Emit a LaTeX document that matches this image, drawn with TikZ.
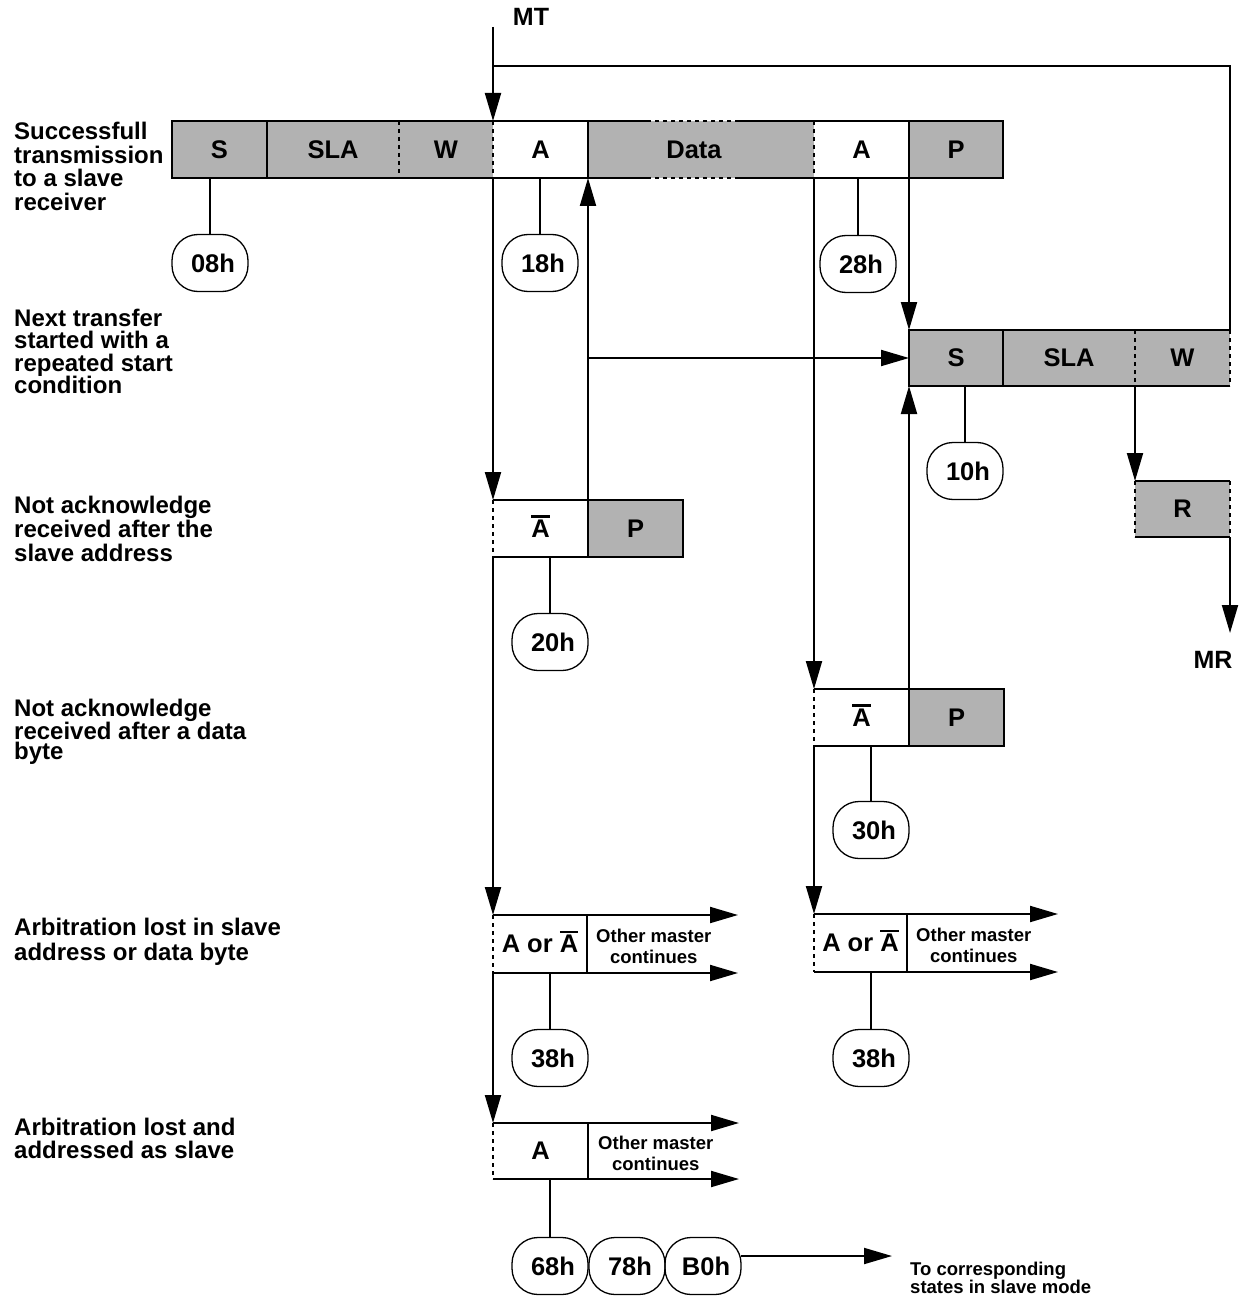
\documentclass[tikz,border=0pt]{standalone}
\usepackage{fontspec}
\setmainfont{Liberation Sans}
\usetikzlibrary{arrows.meta,calc}
\definecolor{fieldgray}{RGB}{178,178,178}
\newcommand{\nA}{\rlap{\smash{\rule[0.76em]{0.72em}{0.1em}}}A}

\begin{document}
\begin{tikzpicture}[x=1pt,y=-1pt,
  field/.style={anchor=north west,inner sep=0pt,outer sep=0pt,minimum height=57pt,font=\bfseries\fontsize{25.5}{28}\selectfont},
  gfield/.style={field,fill=fieldgray},
  code/.style={draw,line width=1.3pt,rounded corners=26pt,minimum width=76pt,minimum height=57pt,inner sep=0pt,outer sep=0pt,font=\bfseries\fontsize{25.5}{28}\selectfont},
  rim/.style={line width=2pt},
  dashrim/.style={line width=2pt,dash pattern=on 4pt off 4pt},
  tick/.style={line width=1.6pt},
  arr/.style={line width=2pt,-{Triangle[length=28pt,width=16pt]}},
  note/.style={anchor=north west,align=left,inner sep=0pt,font=\bfseries\fontsize{24}{#1}\selectfont},
  small/.style={align=center,inner sep=0pt,font=\bfseries\fontsize{18.5}{21}\selectfont},
  tag/.style={inner sep=0pt,font=\bfseries\fontsize{25}{28}\selectfont}]
\useasboundingbox (0,0) rectangle (1259,1297);

\node[note=23.7] (succ) at (14,122) {Successfull\\transmission\\to a slave\\receiver};
\node[note=22.5] (next) at (14,308.5) {Next transfer\\started with a\\repeated start\\condition};
\node[note=24] (nack1) at (14,495.5) {Not acknowledge\\received after the\\slave address};
\node[note=19.8] (nack2) at (14,698.5) {Not acknowledge\\received after a data\\byte};
\node[note=25] (arb1) at (14,918) {Arbitration lost in slave\\address or data byte};
\node[note=23] (arb2) at (14,1118) {Arbitration lost and\\addressed as slave};

\node[gfield,minimum width=95pt] (s1) at (172,121) {S};
\node[gfield,minimum width=132pt] (sla1) at (267,121) {SLA};
\node[gfield,minimum width=94pt] (w1) at (399,121) {W};
\node[field,minimum width=95pt] (a1) at (493,121) {A};
\node[gfield,minimum width=226pt] (data) at (588,121) {Data\hspace*{14pt}};
\node[field,minimum width=95pt] (a2) at (814,121) {A};
\node[gfield,minimum width=94pt] (p1) at (909,121) {P};

\node[gfield,minimum width=94pt,minimum height=56pt] (s2) at (909,330) {S};
\node[gfield,minimum width=132pt,minimum height=56pt] (sla2) at (1003,330) {SLA};
\node[gfield,minimum width=95pt,minimum height=56pt] (w2) at (1135,330) {W};
\node[gfield,minimum width=95pt,minimum height=56pt] (r) at (1135,481) {R};

\node[field,minimum width=95pt] (ab1) at (493,500) {\nA};
\node[gfield,minimum width=95pt] (p3) at (588,500) {P};
\node[field,minimum width=95pt] (ab2) at (814,689) {\nA};
\node[gfield,minimum width=95pt] (p4) at (909,689) {P};

\node[field,minimum width=94pt,minimum height=58pt] (ao1) at (493,915) {A or \nA};
\node[field,minimum width=93pt,minimum height=58pt] (ao2) at (814,914) {A or \nA};
\node[field,minimum width=95pt,minimum height=56pt] (a3) at (493,1123) {A};
\node[small,anchor=west,xshift=9pt,yshift=-2pt] (om1) at (ao1.east) {Other master\\continues};
\node[small,anchor=west,xshift=9pt,yshift=-2pt] (om2) at (ao2.east) {Other master\\continues};
\node[small,anchor=west,xshift=10pt,yshift=-2pt] (om3) at (a3.east) {Other master\\continues};

\node[code] (c08) at (210,263) {\hspace*{6pt}08h};
\node[code] (c18) at (540,263) {\hspace*{6pt}18h};
\node[code] (c28) at (858,264) {\hspace*{6pt}28h};
\node[code] (c10) at (965,471) {\hspace*{6pt}10h};
\node[code] (c20) at (550,642) {\hspace*{6pt}20h};
\node[code] (c30) at (871,830) {\hspace*{6pt}30h};
\node[code] (c38a) at (550,1058) {\hspace*{6pt}38h};
\node[code] (c38b) at (871,1058) {\hspace*{6pt}38h};
\node[code] (c68) at (550,1266) {\hspace*{6pt}68h};
\node[code] (c78) at (627,1266) {\hspace*{6pt}78h};
\node[code] (cb0) at (703,1266) {\hspace*{6pt}B0h};

\node[tag] (mt) at (531,17) {MT};
\node[tag] (mr) at (1213,660) {MR};
\node[small,anchor=north west,align=left,font=\bfseries\fontsize{18.5}{18.5}\selectfont] (slave) at (910,1261.5) {To corresponding\\states in slave mode};
\coordinate (mttop) at (493,27);
\coordinate (loop) at (1230,66);
\coordinate (mrtip) at (1230,633);

\draw[rim] ($(data.north west)+(59,0)$) -- (s1.north west) -- (s1.south west) -- ($(data.south west)+(59,0)$);
\draw[rim] ($(data.north east)+(-76,0)$) -- (p1.north east) -- (p1.south east) -- ($(data.south east)+(-76,0)$);
\draw[dashrim] ($(data.north west)+(59,0)$) -- ($(data.north east)+(-76,0)$) ($(data.south west)+(59,0)$) -- ($(data.south east)+(-76,0)$);
\foreach \f in {s1,a1,a2} \draw[rim] (\f.north east) -- (\f.south east);
\foreach \f in {sla1,w1,data} \draw[dashrim] (\f.north east) -- (\f.south east);

\draw[rim] (w2.north east) -- (s2.north west) -- (s2.south west) -- (w2.south east);
\draw[rim] (s2.north east) -- (s2.south east);
\draw[dashrim] (sla2.north east) -- (sla2.south east) (w2.north east) -- (w2.south east);
\draw[rim] (r.north west) -- (r.north east) (r.south west) -- (r.south east);
\draw[dashrim] (r.north west) -- (r.south west) (r.north east) -- (r.south east);

\foreach \a/\p in {ab1/p3,ab2/p4} {
  \draw[rim] (\a.north west) -- (\p.north east) -- (\p.south east) -- (\a.south west);
  \draw[rim] (\a.north east) -- (\a.south east);
  \draw[dashrim] (\a.north west) -- (\a.south west);
}
\foreach \b in {ao1,ao2,a3} {
  \draw[rim] (\b.north east) -- (\b.south east);
  \draw[dashrim] (\b.north west) -- (\b.south west);
  \draw[arr] (\b.north west) -- ($(\b.north east)+(151,0)$);
  \draw[arr] (\b.south west) -- ($(\b.south east)+(151,0)$);
}

\foreach \c/\f in {c08/s1,c18/a1,c28/a2,c10/s2,c20/ab1,c30/ab2,c38a/ao1,c38b/ao2,c68/a3}
  \draw[tick] (\c.north) -- (\c.north |- \f.south);

\draw[arr] (mttop) -- (a1.north west);
\draw[rim] (w2.north east) -- (loop) -- (loop -| mttop);
\draw[arr] (a1.south west) -- (ab1.north west);
\draw[arr] (ab1.south west) -- (ao1.north west);
\draw[arr] (ao1.south west) -- (a3.north west);
\draw[arr] (p3.north west) -- (data.south west);
\draw[arr] (p3.north west |- s2.west) -- (s2.west);
\draw[arr] (a2.south west) -- (ab2.north west);
\draw[arr] (ab2.south west) -- (ao2.north west);
\draw[arr] (p1.south west) -- (s2.north west);
\draw[arr] (p4.north west) -- (s2.south west);
\draw[arr] (w2.south west) -- (r.north west);
\draw[arr] (r.south east) -- (mrtip);
\draw[arr] ([yshift=10pt]cb0.east) -- ++(151,0);
\end{tikzpicture}
\end{document}
